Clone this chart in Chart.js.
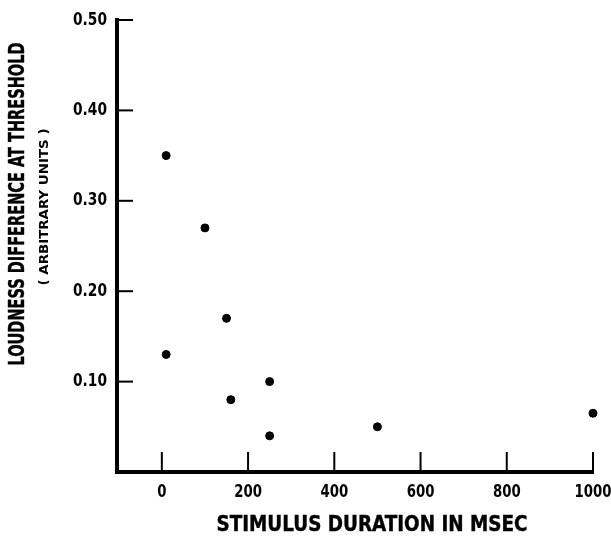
<!DOCTYPE html>
<html>
<head>
<meta charset="utf-8">
<script src="https://cdn.jsdelivr.net/npm/chart.js@4.4.1/dist/chart.umd.min.js"></script>
<style>
  html, body { margin: 0; padding: 0; background: #ffffff; }
  #wrap { width: 611px; height: 537px; position: relative; }
</style>
</head>
<body>
<div id="wrap"><canvas id="loudnessChart"></canvas></div>
<script>
// Data
const durationsMs = [10, 100, 150, 10, 250, 160, 250, 500, 1000];
const loudnessDiff = [0.35, 0.27, 0.17, 0.13, 0.10, 0.08, 0.04, 0.05, 0.065];
const xTickValues = [0, 200, 400, 600, 800, 1000];
const yTickValues = [0.10, 0.20, 0.30, 0.40, 0.50];

const yTitle = 'LOUDNESS DIFFERENCE AT THRESHOLD';
const ySubTitle = '( ARBITRARY UNITS )';
const xTitle = 'STIMULUS DURATION IN MSEC';

const FONT = '"Liberation Sans Narrow", "DejaVu Sans Condensed", "Arial Narrow", sans-serif';

// draw text squeezed horizontally (condensed look of the scan)
function squeezeText(ctx, text, x, y, sx, heavy) {
    ctx.save();
    ctx.translate(x, y);
    ctx.scale(sx, 1);
    if (heavy) {
        ctx.lineWidth = 0.4;
        ctx.strokeStyle = '#000';
        ctx.strokeText(text, 0, 0);
    }
    ctx.fillText(text, 0, 0);
    ctx.restore();
}

function fitText(ctx, text, x, y, width, heavy) {
    squeezeText(ctx, text, x, y, width / ctx.measureText(text).width, heavy);
}

// inward tick marks, tick labels and axis titles
const axisDecor = {
    id: 'axisDecor',
    afterDraw(chart) {
        const ctx = chart.ctx;
        const area = chart.chartArea;
        const xs = chart.scales.x;
        const ys = chart.scales.y;
        ctx.save();
        ctx.strokeStyle = '#000';
        ctx.fillStyle = '#000';
        ctx.lineWidth = 2;
        ctx.textBaseline = 'middle';
        ctx.font = 'bold 18px ' + FONT;

        ctx.textAlign = 'center';
        xs.ticks.forEach(t => {
            const px = xs.getPixelForValue(t.value);
            ctx.beginPath();
            ctx.moveTo(px, area.bottom);
            ctx.lineTo(px, area.bottom - 20);
            ctx.stroke();
            squeezeText(ctx, String(t.value), px, area.bottom + 20, 0.82, false);
        });

        ctx.textAlign = 'right';
        ys.ticks.forEach(t => {
            const py = ys.getPixelForValue(t.value);
            ctx.beginPath();
            ctx.moveTo(area.left, py);
            ctx.lineTo(area.left + 16, py);
            ctx.stroke();
            squeezeText(ctx, t.value.toFixed(2), area.left - 10, py, 0.85, false);
        });

        ctx.textAlign = 'center';

        // x title
        ctx.font = 'bold 21px ' + FONT;
        fitText(ctx, xTitle, 372, 526, 311, true);

        // y titles (rotated)
        ctx.translate(19, 204);
        ctx.rotate(-Math.PI / 2);
        ctx.font = 'bold 21px ' + FONT;
        fitText(ctx, yTitle, 0, 0, 323, true);
        ctx.font = 'bold 13px ' + FONT;
        fitText(ctx, ySubTitle, -3, 26, 157, false);
        ctx.restore();
    }
};

const ctx = document.getElementById('loudnessChart');
new Chart(ctx, {
    type: 'scatter',
    data: {
        datasets: [{
            data: durationsMs.map((d, i) => ({ x: d, y: loudnessDiff[i] })),
            backgroundColor: '#000',
            borderColor: '#000',
            pointRadius: 4,
            pointHoverRadius: 4,
            clip: false
        }]
    },
    options: {
        responsive: true,
        maintainAspectRatio: false,
        animation: false,
        events: [],
        layout: {
            padding: { left: 0, top: 20, right: 18, bottom: 0 }
        },
        plugins: {
            legend: { display: false },
            tooltip: { enabled: false }
        },
        scales: {
            x: {
                type: 'linear',
                min: -104,
                max: 1000,
                afterBuildTicks: s => { s.ticks = xTickValues.map(v => ({ value: v })); },
                afterFit: s => { s.height = 65; s.paddingLeft = 0; s.paddingRight = 0; },
                grid: { display: false, drawTicks: false },
                border: { display: true, color: '#000', width: 4 },
                ticks: { display: false },
                title: { display: false }
            },
            y: {
                type: 'linear',
                min: 0,
                max: 0.5,
                afterBuildTicks: s => { s.ticks = yTickValues.map(v => ({ value: v })); },
                afterFit: s => { s.width = 117; s.paddingTop = 0; s.paddingBottom = 0; },
                grid: { display: false, drawTicks: false },
                border: { display: true, color: '#000', width: 4 },
                ticks: { display: false },
                title: { display: false }
            }
        }
    },
    plugins: [axisDecor]
});
</script>
</body>
</html>
